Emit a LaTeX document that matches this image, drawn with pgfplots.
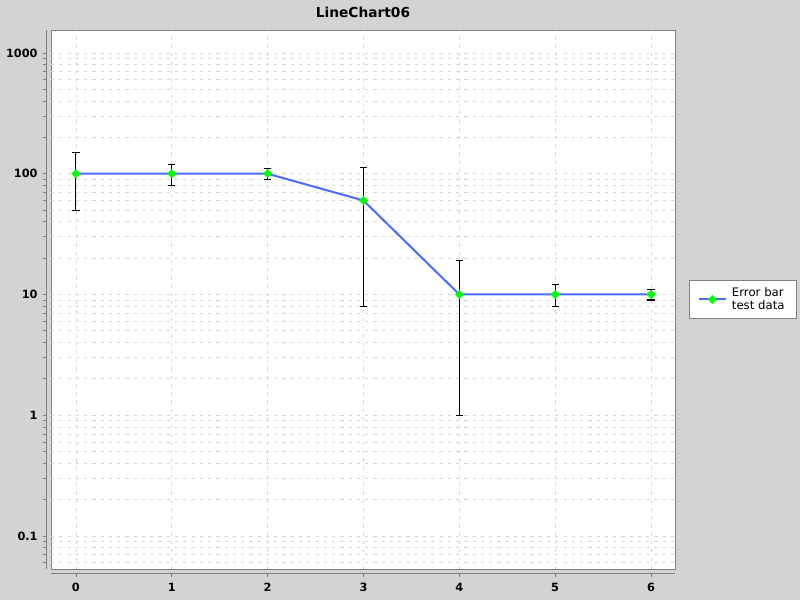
\documentclass[border=0pt]{standalone}
\usepackage{pgfplots}
\pgfplotsset{compat=1.18}
\usepackage{fontspec}
\setmainfont{DejaVu Sans}
\definecolor{bgc}{RGB}{211,211,211}
\definecolor{lineblue}{RGB}{72,108,255}
\definecolor{axgray}{RGB}{128,128,128}
\definecolor{gridc}{RGB}{214,214,214}
\begin{document}
\begin{tikzpicture}
\fill[bgc] (0,0) rectangle (600pt,450pt);
\useasboundingbox (0,0) rectangle (600pt,450pt);
\begin{axis}[
  at={(38.25pt,23.25pt)}, anchor=south west,
  scale only axis, width=468pt, height=404.25pt,
  ymode=log,
  xmin=-0.26, xmax=6.25,
  ymin=0.0533, ymax=1549,
  axis x line*=bottom, axis y line*=left,
  axis x line shift=3pt, axis y line shift=3pt,
  axis line style={axgray, line width=0.75pt, -},
  axis background/.style={fill=white, draw=axgray, line width=0.6pt},
  xtick={0,1,2,3,4,5,6},
  xticklabels={0,1,2,3,4,5,6},
  ytick={0.1,1,10,100,1000},
  yticklabels={0.1,1,10,100,1000},
  minor ytick={0.06,0.07,0.08,0.09,0.2,0.3,0.4,0.5,0.6,0.7,0.8,0.9,2,3,4,5,6,7,8,9,20,30,40,50,60,70,80,90,200,300,400,500,600,700,800,900},
  tick align=outside,
  major tick length=3pt, minor tick length=3pt,
  tick style={axgray, line width=0.6pt},
  xmajorgrids, ymajorgrids, yminorgrids,
  major grid style={gridc, dash pattern=on 2.4pt off 3.8pt, line width=0.6pt},
  minor grid style={gridc, dash pattern=on 2.4pt off 3.8pt, line width=0.6pt},
  ticklabel style={font=\bfseries\fontsize{8.5}{10}\selectfont, black},
  yticklabel style={xshift=-0.5pt},
  xticklabel style={yshift=-1pt},
  title={LineChart06},
  title style={at={(0.5,1)}, anchor=center, yshift=7.5pt, font=\bfseries\fontsize{10.3}{12}\selectfont},
  legend style={at={(1.0224,0.5)}, anchor=west, draw=axgray, fill=white,
    font=\fontsize{8.8}{9.8}\selectfont, cells={align=left}, line width=0.6pt,
    inner xsep=6.5pt, inner ysep=3.5pt},
  legend image code/.code={
    \draw[mark repeat=2, mark phase=2, #1] plot coordinates {(0cm,0cm) (0.35cm,0cm) (0.7cm,0cm)};
  },
  legend cell align=left,
  clip=false,
]
\addplot[lineblue, line width=1.5pt, mark=square*, mark size=2.2pt,
  mark options={fill=green, draw=green, solid, line width=0.4pt, rotate=45},
  error bars/.cd, y dir=both, y explicit,
  error bar style={black, line width=0.75pt},
  error mark options={black, rotate=90, mark size=2.7pt, line width=0.75pt}]
coordinates {
  (0,100) +- (0,50)
  (1,100) +- (0,20)
  (2,100) +- (0,10)
  (3,60) +- (0,52)
  (4,10) +- (0,9)
  (5,10) +- (0,2)
  (6,10) +- (0,1)
};
\addlegendentry{\hspace{2pt}Error bar\\\hspace{2pt}test data}
\end{axis}
\end{tikzpicture}
\end{document}
